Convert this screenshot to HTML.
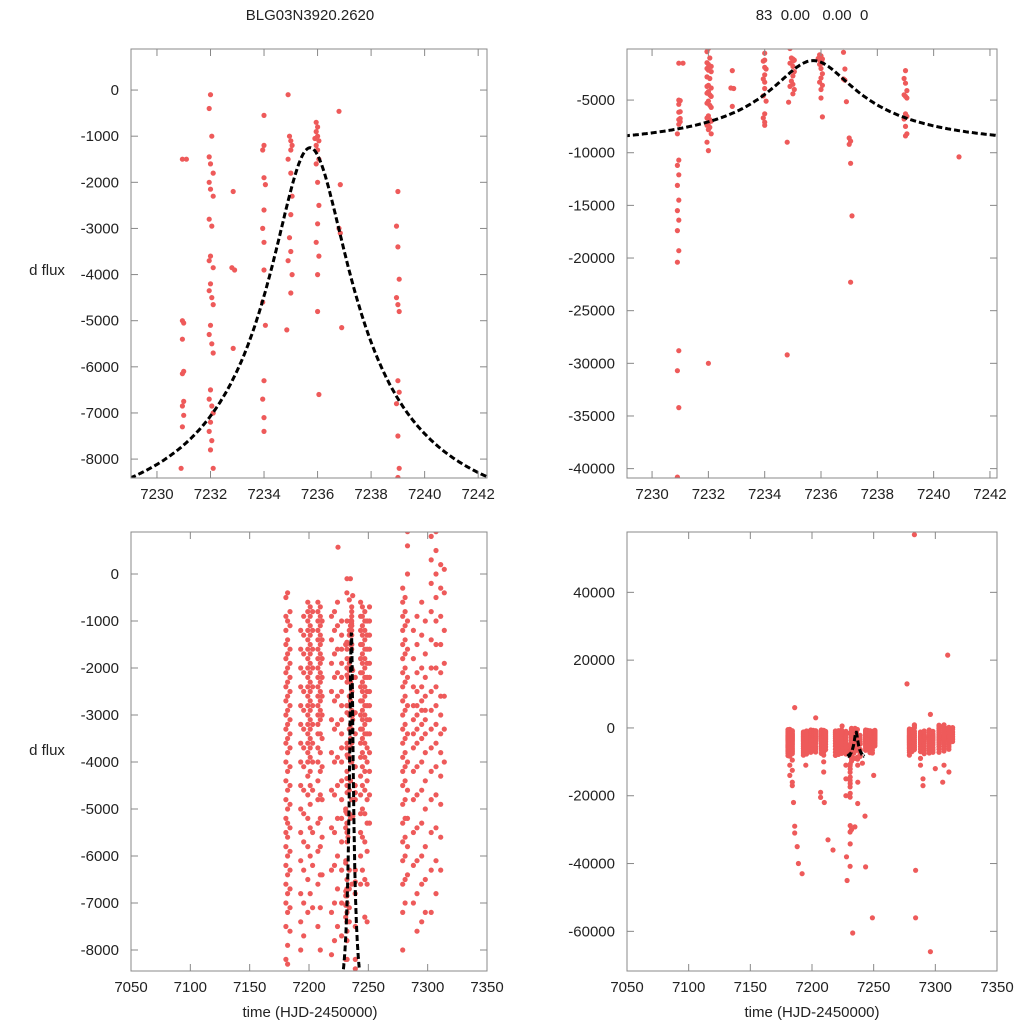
<!DOCTYPE html>
<html><head><meta charset="utf-8"><style>
html,body{margin:0;padding:0;background:#fff;}
svg{display:block;font-family:"Liberation Sans",sans-serif;}
</style></head><body>
<svg id="chart" width="1024" height="1024" viewBox="0 0 1024 1024" xmlns="http://www.w3.org/2000/svg">
<text x="310" y="20" font-size="15" text-anchor="middle" fill="#222">BLG03N3920.2620</text>
<text x="812" y="20" font-size="15" text-anchor="middle" fill="#222" xml:space="preserve">83  0.00   0.00  0</text>
<text x="47" y="275" font-size="15" text-anchor="middle" fill="#222">d flux</text>
<text x="47" y="755" font-size="15" text-anchor="middle" fill="#222">d flux</text>
<text x="310" y="1017" font-size="15" text-anchor="middle" fill="#222">time (HJD-2450000)</text>
<text x="812" y="1017" font-size="15" text-anchor="middle" fill="#222">time (HJD-2450000)</text>
</svg>
<script>
// Zoomed-window observations (time, flux)
const zoomTimes = [
7230.95,7231.1,7230.95,7231.0,7230.95,7231.0,7230.95,7231.0,7230.95,7231.0,7230.95,7230.9,7230.95,7230.9,7230.95,7230.9,7230.95,7230.9,7230.95,7230.9,7230.95,7230.9,7230.95,7230.9,7230.95,
7232.0,7231.95,7232.05,7231.95,7232.0,7232.1,7231.95,7232.0,7232.1,7231.95,7232.05,7232.0,7231.95,7232.1,7232.0,7231.95,7232.05,7232.1,7232.0,7231.95,7232.05,7232.1,7232.0,7231.95,7232.05,7232.1,7232.0,7231.95,7232.05,7232.0,7232.1,7231.95,7232.0,
7232.85,7232.8,7232.9,7232.85,
7234.0,7234.0,7233.95,7234.0,7234.05,7234.0,7233.95,7234.0,7234.0,7233.95,7234.05,7234.0,7233.95,7234.0,7234.0,
7234.9,7234.95,7235.0,7235.05,7235.0,7234.9,7235.0,7235.05,7235.0,7234.95,7235.0,7234.9,7235.05,7235.0,7234.85,7234.8,7234.8,
7235.95,7236.0,7235.95,7236.0,7235.9,7236.05,7235.95,7236.0,7236.05,7235.95,7236.0,7236.05,7236.0,7235.95,7236.05,7236.0,7236.0,7236.05,
7236.8,7236.85,7236.8,7236.85,7236.9,7237.0,7237.05,7237.0,7237.05,7237.1,7237.05,7230.9,
7239.0,7238.95,7239.0,7239.05,7238.95,7239.0,7239.05,7239.0,7239.05,7238.95,7239.0,7239.05,7239.0,
7240.9];
const zoomFlux = [
-1500,-1500,-5000,-5050,-5400,-6100,-6150,-6750,-6850,-7050,-7300,-8200,-10700,-11200,-12100,-13100,-14500,-15500,-16400,-17400,-19300,-20400,-28800,-30700,-34200,
-100,-400,-1000,-1450,-1600,-1800,-2000,-2150,-2300,-2800,-2950,-3600,-3700,-3850,-4200,-4350,-4500,-4650,-5100,-5300,-5500,-5700,-6500,-6700,-6850,-7000,-7200,-7400,-7600,-7800,-8200,-9000,-9800,
-2200,-3850,-3900,-5600,
-550,-1200,-1300,-1900,-2050,-2600,-3000,-3300,-3900,-4600,-5100,-6300,-6700,-7100,-7400,
-100,-1000,-1100,-1200,-1300,-1500,-1800,-2300,-2700,-3200,-3500,-3700,-4000,-4400,-5200,-9000,-29200,
-700,-800,-900,-1000,-1050,-1100,-1200,-1300,-1500,-1600,-2000,-2500,-2900,-3300,-3600,-4000,-4800,-6600,
-460,-2050,-3000,-3100,-5150,-8600,-8900,-9200,-11000,-16000,-22300,-40800,
-2200,-2950,-3400,-4100,-4500,-4650,-4800,-6300,-6550,-6800,-7500,-8200,-8400,
-10400];
// Full-season nights: time, flux values (in units of 100)
const nightTimes = [7180.5,7182,7184,7193,7195.5,7199,7201,7203,7207.5,7209.5,7211,7219,7221.5,7224,7227.5,7243.5,7245,7247,7249,7251,7279,7281,7283,7288,7291,7295,7298,7303,7307,7311,7314];
const nightFlux = [
[-5,-9,-12,-15,-18,-21,-24,-27,-30,-33,-36,-40,-44,-48,-52,-55,-58,-62,-66,-70,-75,-82],
[-4,-10,-14,-17,-20,-23,-26,-29,-32,-35,-38,-42,-46,-50,-53,-56,-60,-64,-68,-72,-79,-83,-110,-140],
[-8,-11,-16,-19,-22,-25,-28,-31,-34,-37,-41,-45,-49,-54,-59,-63,-67,-71,-76,-95,-125,-160],
[-12,-16,-20,-24,-28,-32,-36,-40,-45,-50,-55,-61,-68,-74,-80],
[-9,-13,-17,-21,-25,-29,-33,-37,-41,-46,-51,-57,-63,-70,-77],
[-6,-8,-10,-12,-14,-16,-18,-20,-22,-24,-26,-28,-30,-32,-34,-36,-38,-40,-43,-47,-52,-58,-65,-72],
[-7,-9,-11,-13,-15,-17,-19,-21,-23,-25,-27,-29,-31,-33,-35,-37,-39,-42,-45,-49,-54,-60,-68],
[-8,-12,-16,-20,-24,-28,-32,-36,-40,-46,-55,-62,-71],
[-6,-8,-10,-12,-14,-16,-18,-20,-22,-24,-26,-28,-30,-32,-34,-37,-40,-44,-48,-53,-59,-66,-75],
[-7,-9,-11,-13,-15,-17,-19,-21,-23,-25,-27,-29,-31,-34,-38,-42,-47,-52,-58,-64,-71,-80,-100,-130],
[-10,-14,-18,-22,-26,-30,-35,-41,-48,-56,-64],
[-9,-14,-19,-25,-31,-38,-46,-54,-63,-72,-81],
[-8,-12,-17,-22,-27,-33,-40,-47,-55,-62,-70,-78],
[-6,-11,-16,-21,-26,-32,-39,-45,-52,-60,-67,-75],
[-10,-13,-16,-19,-22,-25,-28,-31,-34,-37,-40,-44,-48,-52,-57,-63,-70,-77,-110,-150,-200],
[-6,-9,-12,-15,-18,-21,-24,-27,-30,-33,-36,-39,-43,-47,-51,-55,-60,-66],
[-7,-9,-11,-13,-15,-17,-19,-21,-23,-25,-27,-29,-31,-33,-35,-38,-41,-45,-50,-56,-63],
[-8,-10,-12,-14,-16,-18,-20,-22,-24,-26,-28,-30,-32,-34,-36,-39,-42,-46,-51,-57,-65,-73],
[-10,-13,-16,-19,-22,-25,-28,-31,-34,-37,-40,-44,-48,-53,-59,-66,-74],
[-7,-10,-13,-16,-19,-22,-25,-28,-31,-34,-38,-42,-47,-53],
[-3,-6,-9,-12,-15,-18,-21,-24,-27,-30,-33,-36,-39,-42,-45,-49,-53,-57,-61,-66,-72,-80],
[-5,-8,-11,-14,-17,-20,-23,-26,-29,-32,-35,-38,-41,-44,-48,-52,-56,-60,-65,-70],
[9,6,0,-10,-16,-22,-28,-34,-40,-46,-52,-58,-64],
[-12,-18,-24,-28,-31,-34,-37,-42,-48,-55,-62,-70,-90,-110],
[-9,-15,-21,-25,-28,-30,-33,-36,-41,-47,-54,-61,-68,-76],
[-6,-13,-20,-24,-27,-29,-32,-35,-40,-46,-53,-60,-66,-74],
[-10,-17,-22,-26,-29,-31,-34,-38,-44,-50,-58,-65,-72],
[8,3,-2,-8,-14,-20,-25,-29,-33,-37,-42,-48,-55,-63,-72],
[9,5,0,-5,-10,-15,-20,-24,-28,-32,-36,-41,-47,-54,-61,-68,-110],
[2,-3,-9,-15,-21,-26,-30,-34,-38,-43,-49,-56,-63,-130],
[1,-4,-12,-19,-26,-33,-40]];
// Outliers (time, flux)
const outlierTimes = [7224.4,7184,7185,7186,7186,7188,7189,7192,7195,7203,7207,7207,7210,7213,7217,7228,7228.5,7232,7233,7243,7243.5,7249,7250,7277,7283,7284,7284,7290,7290,7296,7300,7306,7310,7186,7296];
const outlierFlux = [570,-17000,-22000,-29000,-31000,-35000,-40000,-43000,-11000,3000,-19000,-20500,-22000,-33000,-36000,-38000,-45000,-30000,-60500,-26000,-41000,-56000,-14000,13000,57000,-42000,-56000,-15000,-17000,-66000,-12000,-16000,21500,6000,4000];
// Microlensing model parameters
const modelT0 = 7235.72, modelU0 = 0.15, modelTE = 10, modelScale = 1425, modelBase = -10830;
const xTicksTop = [7230,7232,7234,7236,7238,7240,7242];
const xTicksBottom = [7050,7100,7150,7200,7250,7300,7350];
const yTicksTL = [0,-1000,-2000,-3000,-4000,-5000,-6000,-7000,-8000];
const yTicksTR = [-5000,-10000,-15000,-20000,-25000,-30000,-35000,-40000];
const yTicksBL = [0,-1000,-2000,-3000,-4000,-5000,-6000,-7000,-8000];
const yTicksBR = [40000,20000,0,-20000,-40000,-60000];

const NS = "http://www.w3.org/2000/svg";
const svg = document.getElementById('chart');
function mk(tag, attrs, parent){const e=document.createElementNS(NS,tag);for(const k in attrs)e.setAttribute(k,attrs[k]);(parent||svg).appendChild(e);return e;}

const allT=[], allF=[];
for(let i=0;i<nightTimes.length;i++){for(const v of nightFlux[i]){allT.push(nightTimes[i]);allF.push(v*100);}}
for(let i=0;i<outlierTimes.length;i++){allT.push(outlierTimes[i]);allF.push(outlierFlux[i]);}
for(let i=0;i<zoomTimes.length;i++){allT.push(zoomTimes[i]);allF.push(zoomFlux[i]);}

function magn(t){const d=(t-modelT0)/modelTE;const u=Math.sqrt(modelU0*modelU0+d*d);return (u*u+2)/(u*Math.sqrt(u*u+4));}
function model(t){return modelBase+modelScale*magn(t);}

function panel(name,px0,px1,py0,py1,xd,yd,xt,yt){
  const g=mk('g',{});  
  const sx=t=>px0+(t-xd[0])/(xd[1]-xd[0])*(px1-px0);
  const sy=v=>py1-(v-yd[0])/(yd[1]-yd[0])*(py1-py0);
  const cid='clip-'+name;
  const cp=mk('clipPath',{id:cid},g); mk('rect',{x:px0,y:py0,width:px1-px0,height:py1-py0},cp);
  const pts=mk('g',{'clip-path':'url(#'+cid+')'},g);
   
  for(let i=0;i<allT.length;i++){
    const x=sx(allT[i]), y=sy(allF[i]);
    if(x<px0-4||x>px1+4||y<py0-4||y>py1+4) continue;
    const c=mk('circle',{cx:x.toFixed(1),cy:y.toFixed(1),r:2.6,fill:'#ee5a5a'},pts);
    
    
  }
  let d='';
  for(let t=7229.0;t<=7242.35;t+=0.05){d+=(d?'L':'M')+sx(t).toFixed(1)+','+sy(model(t)).toFixed(1);}
  const ml=mk('path',{d:d,fill:'none',stroke:'#000','stroke-width':3,'stroke-dasharray':'6,3'},pts);
  
  
  const fr=mk('rect',{x:px0,y:py0,width:px1-px0,height:py1-py0,fill:'none',stroke:'#888','stroke-width':1},g);
   
  for(const t of xt){const x=sx(t);
    mk('line',{x1:x,x2:x,y1:py1,y2:py1-7,stroke:'#888'},g);
    mk('line',{x1:x,x2:x,y1:py0,y2:py0+7,stroke:'#888'},g);
    const tx=mk('text',{x:x,y:py1+21,'font-size':15,'text-anchor':'middle',fill:'#222'},g);tx.textContent=t;
     }
  for(const v of yt){const y=sy(v);
    mk('line',{x1:px0,x2:px0+7,y1:y,y2:y,stroke:'#888'},g);
    mk('line',{x1:px1,x2:px1-7,y1:y,y2:y,stroke:'#888'},g);
    const tx=mk('text',{x:px0-12,y:y+5,'font-size':15,'text-anchor':'end',fill:'#222'},g);tx.textContent=v;
     }
}
panel('panel-top-left',131,487,49,478,[7229.03,7242.33],[-8410,890],xTicksTop,yTicksTL);
panel('panel-top-right',627,997,49,478,[7229.11,7242.25],[-40890,-150],xTicksTop,yTicksTR);
panel('panel-bottom-left',131,487,532,971,[7050,7350],[-8447,894],xTicksBottom,yTicksBL);
panel('panel-bottom-right',627,997,532,971,[7050,7350],[-71700,57800],xTicksBottom,yTicksBR);
</script>
</body></html>
